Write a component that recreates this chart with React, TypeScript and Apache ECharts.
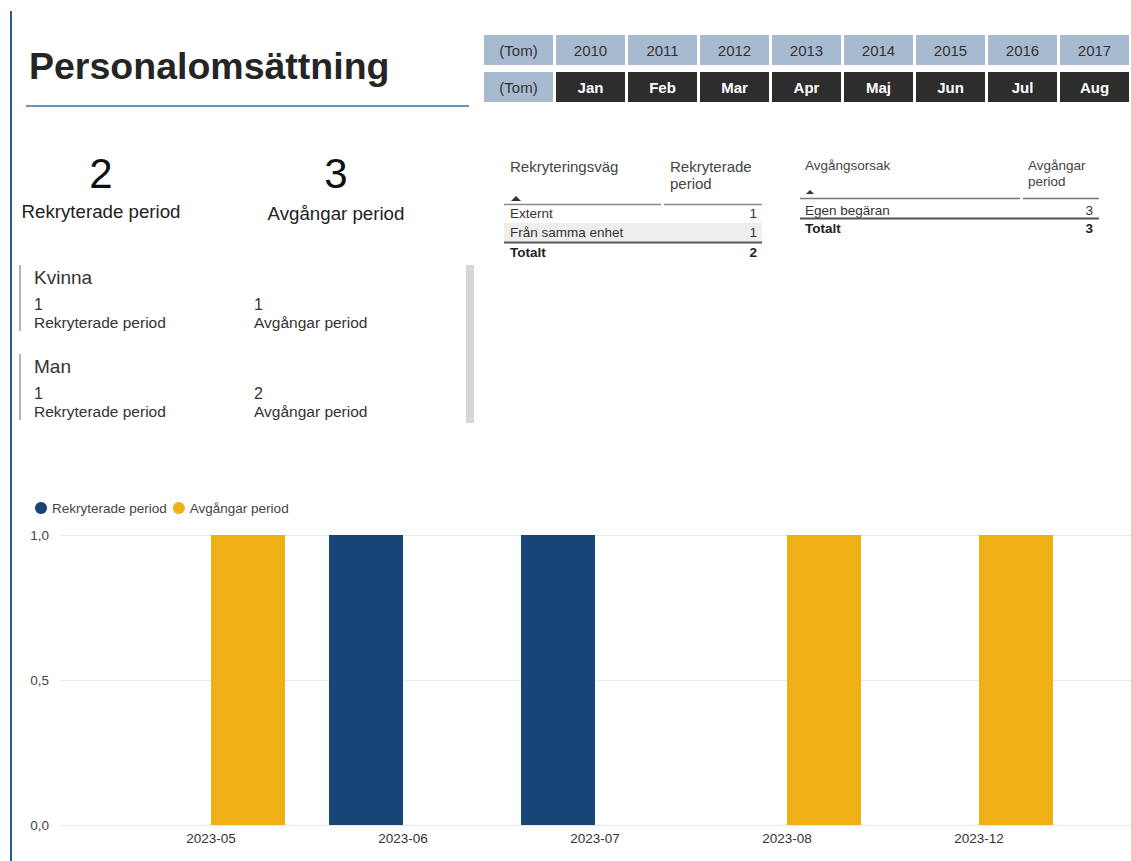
import React, { useEffect, useRef } from "react";
import * as echarts from "echarts";

const months = ["2023-05", "2023-06", "2023-07", "2023-08", "2023-12"];
const rekryterade = [null, 1, 1, null, null];
const avgangar = [1, null, null, 1, 1];
const yearButtons = ["(Tom)", "2010", "2011", "2012", "2013", "2014", "2015", "2016", "2017"];
const monthButtons = ["(Tom)", "Jan", "Feb", "Mar", "Apr", "Maj", "Jun", "Jul", "Aug"];
const kpiLabels = ["Rekryterade period", "Avgångar period"];
const kpiValues = [2, 3];
const genders = ["Kvinna", "Man"];
const genderRekryterade = [1, 1];
const genderAvgangar = [1, 2];
const rekrVagar = ["Externt", "Från samma enhet"];
const rekrVagValues = [1, 1];
const rekrTotal = 2;
const avgOrsaker = ["Egen begäran"];
const avgOrsakValues = [3];
const avgTotal = 3;

const FONT = "'Liberation Sans', Arial, sans-serif";
const BLUE = "#174577";
const YELLOW = "#efb115";

function txt(text: string, x: number, y: number, size: number, opts: any = {}) {
  return {
    type: "text",
    x,
    y,
    silent: true,
    style: {
      text,
      fill: opts.fill || "#333333",
      fontSize: size,
      fontFamily: FONT,
      fontWeight: opts.weight || "normal",
      align: opts.align || "left",
      verticalAlign: "middle",
    },
  };
}

function rect(x: number, y: number, w: number, h: number, fill: string) {
  return { type: "rect", silent: true, shape: { x, y, width: w, height: h }, style: { fill } };
}

function hline(x1: number, x2: number, y: number, stroke: string, lw: number) {
  return { type: "line", silent: true, shape: { x1, y1: y, x2, y2: y }, style: { stroke, lineWidth: lw } };
}

export default function App() {
  const ref = useRef<HTMLDivElement>(null);
  useEffect(() => {
    if (!ref.current) return;
    const chart = echarts.init(ref.current, undefined, { renderer: "svg" });
    const g: any[] = [];
    // left border
    g.push(rect(10, 11, 2, 850, "#2a5a9a"));
    // title
    g.push(txt("Personalomsättning", 29, 66, 37.5, { weight: "bold", fill: "#252525" }));
    g.push(hline(26, 469, 106, "#3a6ea5", 1.5));
    // slicer
    yearButtons.forEach((t, i) => {
      const x = 484 + i * 72;
      g.push(rect(x, 35, 69, 30, "#a8bad0"));
      g.push(txt(t, x + 34.5, 50, 15, { align: "center", fill: "#333333" }));
    });
    monthButtons.forEach((t, i) => {
      const x = 484 + i * 72;
      const light = i === 0;
      g.push(rect(x, 72, 69, 30, light ? "#a8bad0" : "#2d2d2d"));
      g.push(txt(t, x + 34.5, 87, 15, { align: "center", fill: light ? "#333333" : "#ffffff", weight: light ? "normal" : "bold" }));
    });
    // KPIs
    const kpiX = [101, 336];
    kpiValues.forEach((v, i) => {
      g.push(txt(String(v), kpiX[i], 173, 42, { align: "center", fill: "#111111" }));
      g.push(txt(kpiLabels[i], kpiX[i], i === 0 ? 211 : 213, 18.7, { align: "center", fill: "#222222" }));
    });
    // gender cards
    genders.forEach((name, i) => {
      const top = 265 + i * 89;
      g.push(rect(19, top, 2, 66, "#b5b5b5"));
      g.push(txt(name, 34, top + 12, 19, { fill: "#333333" }));
      g.push(txt(String(genderRekryterade[i]), 34, top + 39, 16, { fill: "#333333" }));
      g.push(txt(kpiLabels[0], 34, top + 57, 15.5, { fill: "#333333" }));
      g.push(txt(String(genderAvgangar[i]), 254, top + 39, 16, { fill: "#333333" }));
      g.push(txt(kpiLabels[1], 254, top + 57, 15.5, { fill: "#333333" }));
    });
    g.push(rect(466, 265, 8, 158, "#d6d6d6"));
    // table 1
    g.push(txt("Rekryteringsväg", 510, 166, 15, { fill: "#444444" }));
    g.push(txt("Rekryterade", 670, 166, 15, { fill: "#444444" }));
    g.push(txt("period", 670, 183, 15, { fill: "#444444" }));
    g.push({ type: "polygon", silent: true, shape: { points: [[511, 201], [516, 196], [521, 201]] }, style: { fill: "#333333" } });
    g.push(hline(504, 661, 204.5, "#8a8a8a", 1.5));
    g.push(hline(664, 762, 204.5, "#8a8a8a", 1.5));
    rekrVagar.forEach((name, i) => {
      const y = 213 + i * 19;
      if (i % 2 === 1) g.push(rect(504, y - 9, 258, 18, "#eeeeee"));
      g.push(txt(name, 510, y, 13.5, { fill: "#333333" }));
      g.push(txt(String(rekrVagValues[i]), 757, y, 13.5, { fill: "#333333", align: "right" }));
    });
    g.push(hline(504, 762, 242.5, "#555555", 2));
    g.push(txt("Totalt", 510, 252, 13.5, { fill: "#222222", weight: "bold" }));
    g.push(txt(String(rekrTotal), 757, 252, 13.5, { fill: "#222222", weight: "bold", align: "right" }));
    // table 2
    g.push(txt("Avgångsorsak", 805, 165, 13.5, { fill: "#444444" }));
    g.push(txt("Avgångar", 1028, 165, 13.5, { fill: "#444444" }));
    g.push(txt("period", 1028, 181, 13.5, { fill: "#444444" }));
    g.push({ type: "polygon", silent: true, shape: { points: [[806, 194], [810, 190], [814, 194]] }, style: { fill: "#333333" } });
    g.push(hline(800, 1020, 198.5, "#777777", 1.5));
    g.push(hline(1023, 1099, 198.5, "#777777", 1.5));
    avgOrsaker.forEach((name, i) => {
      const y = 210 + i * 19;
      g.push(txt(name, 805, y, 13.5, { fill: "#333333" }));
      g.push(txt(String(avgOrsakValues[i]), 1093, y, 13.5, { fill: "#333333", align: "right" }));
    });
    g.push(hline(800, 1099, 218.5, "#555555", 2));
    g.push(txt("Totalt", 805, 228, 13.5, { fill: "#222222", weight: "bold" }));
    g.push(txt(String(avgTotal), 1093, 228, 13.5, { fill: "#222222", weight: "bold", align: "right" }));

    chart.setOption({
      animation: false,
      textStyle: { fontFamily: FONT },
      legend: {
        left: 30,
        top: 496,
        icon: "circle",
        itemWidth: 12,
        itemHeight: 12,
        itemGap: 6,
        textStyle: { fontSize: 13.5, color: "#444444", fontFamily: FONT },
        data: ["Rekryterade period", "Avgångar period"],
      },
      grid: [
        { left: 60, right: 0, top: 535, bottom: 36 },
        { left: 115, right: 56, top: 535, bottom: 36 },
      ],
      xAxis: [
        { type: "category", gridIndex: 0, data: months, show: false },
        {
          type: "category",
          gridIndex: 1,
          data: months,
          axisLine: { show: false },
          axisTick: { show: false },
          axisLabel: { fontSize: 13.5, color: "#333333", margin: 6, fontFamily: FONT },
        },
      ],
      yAxis: [
        {
          type: "value",
          gridIndex: 0,
          min: 0,
          max: 1,
          interval: 0.5,
          axisLine: { show: false },
          axisTick: { show: false },
          axisLabel: {
            fontSize: 13.5,
            color: "#444444",
            margin: 11,
            fontFamily: FONT,
            formatter: (v: number) => v.toFixed(1).replace(".", ","),
          },
          splitLine: { lineStyle: { color: "#e9e9e9", width: 1 } },
        },
        { type: "value", gridIndex: 1, min: 0, max: 1, show: false, splitLine: { show: false } },
      ],
      series: [
        {
          name: "Rekryterade period",
          type: "bar",
          xAxisIndex: 1,
          yAxisIndex: 1,
          data: rekryterade,
          barWidth: 74,
          barGap: "0%",
          itemStyle: { color: BLUE },
        },
        {
          name: "Avgångar period",
          type: "bar",
          xAxisIndex: 1,
          yAxisIndex: 1,
          data: avgangar,
          barWidth: 74,
          barGap: "0%",
          itemStyle: { color: YELLOW },
        },
      ],
      graphic: g,
    });
    return () => chart.dispose();
  }, []);
  return <div ref={ref} style={{ position: "absolute", left: 0, top: 0, width: 1131, height: 861, background: "#ffffff" }} />;
}
